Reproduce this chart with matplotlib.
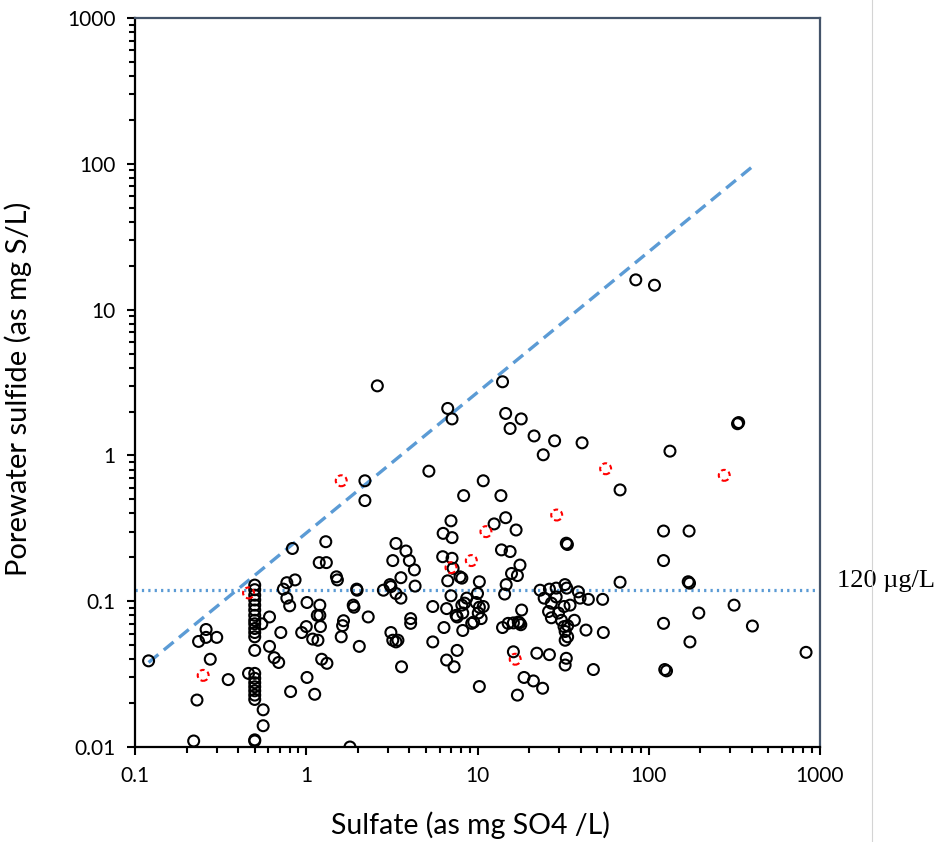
import numpy as np
import matplotlib
matplotlib.use("Agg")
import matplotlib.pyplot as plt
from matplotlib.lines import Line2D

plt.rcParams['font.family'] = ['Lato', 'DejaVu Sans']

# porewater samples: sulfate (mg SO4/L) vs sulfide (mg S/L)
sulfate = [
    0.12, 0.26, 0.235, 0.26, 0.30, 0.275, 0.23, 0.22, 0.35, 0.83,
    1.30, 1.19, 1.31, 0.77, 0.86, 0.735, 0.77, 0.80, 1.01, 1.20,
    1.16, 1.20, 1.0, 0.94, 1.21, 1.09, 1.17, 0.61, 0.55, 0.71,
    0.61, 0.65, 0.69, 1.23, 1.32, 1.01, 0.81, 1.12, 0.56, 0.56,
    0.5, 0.5, 0.5, 0.5, 0.5, 0.5, 0.5, 0.5, 0.5, 0.5,
    0.5, 0.5, 0.5, 0.5, 0.5, 0.5, 0.5, 0.5, 0.5, 0.5,
    0.5, 0.5, 0.46, 1.8,
    2.6, 14, 6.7, 7.1, 14.6, 18, 15.5, 21.4, 28.2, 24.2,
    5.2, 2.2, 2.2, 10.8, 8.3, 13.7, 7.0, 6.3, 7.1, 12.5,
    14.6, 16.8, 1.5, 1.52, 1.97, 1.98, 1.88, 1.9, 2.3, 1.65,
    1.63, 1.6, 2.04, 3.34, 3.82, 3.2, 4.0, 4.28, 3.57, 4.32,
    2.82, 3.08, 3.12, 3.34, 3.57, 4.07, 4.07, 3.12, 3.2, 3.34,
    3.43, 3.6, 5.48, 5.48, 6.37, 6.26, 7.1, 7.2, 7.9, 8.1,
    6.7, 10.25, 7.0, 8.65, 8.4, 8.1, 8.2, 10.0, 9.8, 10.25,
    10.8, 10.1, 10.5, 9.5, 9.25, 6.6, 7.5, 7.6, 8.2, 7.6,
    6.6, 7.3, 10.25, 16.2, 18.7, 21.2, 24.0, 17.1, 13.8, 15.5,
    17.7, 15.8, 17.1, 14.7, 14.4, 14.0, 15.1, 16.2, 17.3, 18.1,
    17.6, 17.9, 22.2, 26.3, 23.2, 26.3, 28.8, 24.5, 27.0, 28.8,
    32.4, 26, 27, 29.7, 32, 32, 32.5, 32.5, 33, 32.5,
    33, 33.5,
    84, 108, 330, 335, 133, 40.8, 68, 122, 172, 122,
    170, 173, 68, 33.2, 38.8, 39.7, 44.4, 53.8, 34.7, 30.9,
    36.8, 33.6, 33.6, 43, 54.3, 47.5, 122, 196, 174, 124,
    127, 315, 403, 829,
]
sulfide = [
    0.039, 0.064, 0.053, 0.0565, 0.0565, 0.040, 0.021, 0.011, 0.029, 0.23,
    0.256, 0.184, 0.184, 0.134, 0.14, 0.121, 0.105, 0.093, 0.098, 0.094,
    0.080, 0.080, 0.067, 0.061, 0.067, 0.055, 0.054, 0.078, 0.070, 0.061,
    0.049, 0.041, 0.038, 0.040, 0.0375, 0.030, 0.024, 0.023, 0.018, 0.014,
    0.129, 0.120, 0.110, 0.102, 0.094, 0.087, 0.080, 0.074, 0.070, 0.065,
    0.061, 0.057, 0.046, 0.032, 0.0296, 0.0276, 0.0259, 0.0243, 0.0227, 0.0212,
    0.0112, 0.011, 0.032, 0.010,
    3.0, 3.2, 2.1, 1.78, 1.94, 1.78, 1.53, 1.36, 1.26, 1.01,
    0.78, 0.67, 0.49, 0.67, 0.53, 0.53, 0.356, 0.292, 0.273, 0.339,
    0.374, 0.308, 0.147, 0.14, 0.121, 0.119, 0.094, 0.091, 0.078, 0.0735,
    0.068, 0.057, 0.049, 0.249, 0.221, 0.19, 0.19, 0.164, 0.145, 0.127,
    0.119, 0.130, 0.126, 0.113, 0.105, 0.076, 0.0705, 0.061, 0.054, 0.0526,
    0.054, 0.0355, 0.092, 0.0526, 0.066, 0.202, 0.197, 0.168, 0.147, 0.144,
    0.138, 0.136, 0.109, 0.105, 0.097, 0.094, 0.083, 0.113, 0.098, 0.091,
    0.092, 0.083, 0.076, 0.072, 0.0705, 0.089, 0.080, 0.078, 0.063, 0.046,
    0.0395, 0.0355, 0.026, 0.045, 0.030, 0.0284, 0.0253, 0.0227, 0.225, 0.219,
    0.177, 0.155, 0.150, 0.130, 0.112, 0.066, 0.0705, 0.071, 0.072, 0.087,
    0.071, 0.069, 0.044, 0.043, 0.119, 0.121, 0.123, 0.105, 0.097, 0.107,
    0.130, 0.085, 0.077, 0.083, 0.092, 0.067, 0.062, 0.054, 0.0406, 0.0365,
    0.25, 0.245,
    16, 14.7, 1.65, 1.68, 1.07, 1.22, 0.58, 0.303, 0.303, 0.19,
    0.136, 0.133, 0.135, 0.123, 0.116, 0.105, 0.103, 0.103, 0.094, 0.074,
    0.074, 0.068, 0.057, 0.0634, 0.061, 0.034, 0.0705, 0.083, 0.0526, 0.034,
    0.0333, 0.094, 0.0676, 0.0446,
]

# flagged samples (dashed red)
flag_sulfate = [0.25, 0.46, 1.6, 29, 11.2, 7.0, 9.2, 16.6, 56, 276]
flag_sulfide = [0.031, 0.114, 0.67, 0.39, 0.30, 0.17, 0.19, 0.04, 0.81, 0.73]

# upper bound line and 120 ug/L threshold
bound_x = [0.12, 400]
bound_y = [0.038, 95]
threshold = 0.12

x_ticks = [0.1, 1, 10, 100, 1000]
x_labels = ['0.1', '1', '10', '100', '1000']
y_ticks = [0.01, 0.1, 1, 10, 100, 1000]
y_labels = ['0.01', '0.1', '1', '10', '100', '1000']

fig = plt.figure(figsize=(9.41, 8.42), dpi=100)
ax = fig.add_axes([0.1435, 0.1128, 0.7279, 0.8658])
ax.set_xscale('log')
ax.set_yscale('log')
ax.set_xlim(0.1, 1000)
ax.set_ylim(0.01, 1000)

blue = '#5B9BD5'
ax.plot(bound_x, bound_y, color=blue, lw=2.4, dashes=(3.8, 2.1), zorder=2)
ax.axhline(threshold, color=blue, lw=2.3, linestyle=(0, (0.7, 1.3)),
           dash_capstyle='butt', zorder=2)

ax.scatter(sulfate, sulfide, s=62, facecolors='none', edgecolors='black',
           linewidths=1.5, zorder=3)
ax.scatter(flag_sulfate, flag_sulfide, s=62, facecolors='none',
           edgecolors='red', linewidths=1.5, linestyles=(0, (2.2, 1.6)),
           zorder=3)

ax.set_xticks(x_ticks, x_labels)
ax.set_yticks(y_ticks, y_labels)
ax.tick_params(which='major', direction='out', length=6, width=1.5,
               labelsize=15, pad=8)
ax.tick_params(which='minor', direction='out', length=4.5, width=1.5)
ax.tick_params(axis='y', which='minor', labelleft=False)
ax.tick_params(axis='x', which='minor', labelbottom=False)

for side in ['left', 'bottom']:
    ax.spines[side].set_color('black')
    ax.spines[side].set_linewidth(1.6)
for side in ['top', 'right']:
    ax.spines[side].set_color('#44546A')
    ax.spines[side].set_linewidth(1.6)

ax.set_xlabel('Sulfate (as mg SO4 /L)', fontsize=20.5, va='center')
ax.xaxis.set_label_coords(0.49, -0.107)
ax.set_ylabel('Porewater sulfide (as mg S/L)', fontsize=21, va='center')
ax.yaxis.set_label_coords(-0.171, 0.492)

ax.annotate('120 \u00b5g/L', xy=(1.025, threshold),
            xycoords=ax.get_yaxis_transform(), xytext=(0, 6),
            textcoords='offset points', fontsize=19,
            family=['Liberation Serif', 'DejaVu Serif'],
            ha='left', va='center', annotation_clip=False)

# thin page edge on the right
fig.add_artist(Line2D([872 / 941, 872 / 941], [0, 1], color='#D4D4D4', lw=0.8))

fig.savefig('out.png', dpi=100)
plt.close(fig)
